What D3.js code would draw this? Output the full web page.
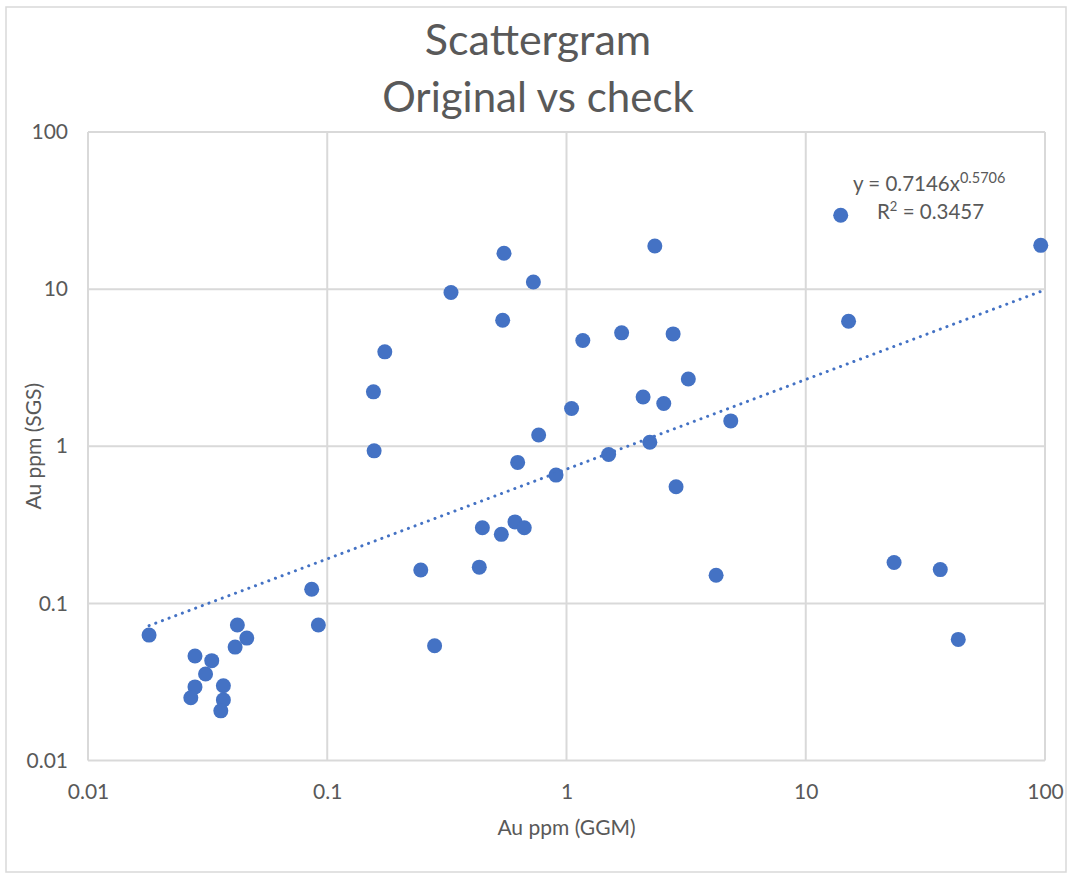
<!DOCTYPE html>
<html>
<head>
<meta charset="utf-8">
<script src="https://cdnjs.cloudflare.com/ajax/libs/d3/7.8.5/d3.min.js"></script>
<style>
  body { margin: 0; background: #fff; }
  text { font-family: Lato, "Open Sans", sans-serif; fill: #595959; }
</style>
</head>
<body>
<div id="chart"></div>
<script>
// Au ppm, original lab (GGM) vs check lab (SGS)
var ggm = [0.0180, 0.0280, 0.0329, 0.0310, 0.0280, 0.0269, 0.0368, 0.0368, 0.0359, 0.0421,
           0.0461, 0.0412, 0.0861, 0.0918, 0.157, 0.174, 0.156, 0.548, 0.727, 0.329,
           0.541, 2.34, 1.17, 1.70, 2.79, 3.23, 2.09, 2.55, 1.05, 0.765,
           2.23, 1.50, 14.0, 96.0, 15.1, 4.86, 0.625, 0.904, 2.87, 0.445,
           0.534, 0.609, 0.666, 0.246, 0.432, 0.281, 4.22, 23.4, 36.5, 43.4];
var sgs = [0.0628, 0.0462, 0.0432, 0.0355, 0.0294, 0.0251, 0.0299, 0.0243, 0.0207, 0.0728,
           0.0601, 0.0527, 0.123, 0.0728, 0.935, 3.99, 2.22, 16.9, 11.1, 9.51,
           6.34, 18.8, 4.71, 5.27, 5.19, 2.68, 2.06, 1.87, 1.74, 1.18,
           1.06, 0.887, 29.5, 19.0, 6.25, 1.45, 0.789, 0.655, 0.552, 0.303,
           0.275, 0.330, 0.303, 0.163, 0.170, 0.0537, 0.151, 0.182, 0.164, 0.059];

var tickVals = [0.01, 0.1, 1, 10, 100];
var tickLabels = ["0.01", "0.1", "1", "10", "100"];

// power trendline shown on the chart
var trendA = 0.7146, trendB = 0.5706, trendR2 = "0.3457";

var width = 1071, height = 875;
var margin = {left: 88, right: 26, top: 132, bottom: 114.5};
var plotW = width - margin.left - margin.right;
var plotH = height - margin.top - margin.bottom;

var svg = d3.select("#chart").append("svg")
    .attr("width", width)
    .attr("height", height);

// chart outer border
svg.append("rect")
    .attr("x", 6).attr("y", 7)
    .attr("width", 1060).attr("height", 865)
    .attr("fill", "#fff")
    .attr("stroke", "#d9d9d9")
    .attr("stroke-width", 1.5);

// title
svg.append("text")
    .attr("x", 538).attr("y", 55)
    .attr("text-anchor", "middle")
    .attr("font-size", "43px")
    .text("Scattergram");
svg.append("text")
    .attr("x", 538).attr("y", 112)
    .attr("text-anchor", "middle")
    .attr("font-size", "42px")
    .text("Original vs check");

var g = svg.append("g")
    .attr("transform", "translate(" + margin.left + "," + margin.top + ")");

var x = d3.scaleLog().domain([0.01, 100]).range([0, plotW]);
var y = d3.scaleLog().domain([0.01, 100]).range([plotH, 0]);

// gridlines
g.selectAll(".vgrid")
    .data(tickVals)
    .enter()
    .append("line")
    .attr("x1", function(d){ return x(d); })
    .attr("x2", function(d){ return x(d); })
    .attr("y1", 0).attr("y2", plotH)
    .style("stroke", "#d9d9d9")
    .style("stroke-width", "2px");

g.selectAll(".hgrid")
    .data(tickVals)
    .enter()
    .append("line")
    .attr("x1", 0).attr("x2", plotW)
    .attr("y1", function(d){ return y(d); })
    .attr("y2", function(d){ return y(d); })
    .style("stroke", "#d9d9d9")
    .style("stroke-width", "2px");

// axes (labels only)
var xAxis = g.append("g")
    .attr("transform", "translate(0," + plotH + ")")
    .call(d3.axisBottom(x).tickValues(tickVals)
        .tickFormat(function(d, i){ return tickLabels[i]; })
        .tickSize(0).tickPadding(24));
xAxis.select(".domain").remove();
xAxis.selectAll("text")
    .attr("font-size", "21px")
    .style("font-family", "Lato, sans-serif")
    .style("fill", "#595959");

var yAxis = g.append("g")
    .call(d3.axisLeft(y).tickValues(tickVals)
        .tickFormat(function(d, i){ return tickLabels[i]; })
        .tickSize(0).tickPadding(20));
yAxis.select(".domain").remove();
yAxis.selectAll("text")
    .attr("font-size", "21px")
    .style("font-family", "Lato, sans-serif")
    .style("fill", "#595959");

// axis titles
svg.append("text")
    .attr("x", margin.left + plotW/2).attr("y", 835)
    .attr("text-anchor", "middle")
    .attr("font-size", "21px")
    .text("Au ppm (GGM)");
svg.append("text")
    .attr("transform", "translate(41," + (margin.top + plotH/2) + ") rotate(-90)")
    .attr("text-anchor", "middle")
    .attr("font-size", "21px")
    .text("Au ppm (SGS)");

// points
var data = ggm.map(function(d, i){ return {x: d, y: sgs[i]}; });
g.selectAll("circle")
    .data(data)
    .enter()
    .append("circle")
    .attr("cx", function(d){ return x(d.x); })
    .attr("cy", function(d){ return y(d.y); })
    .attr("r", 7.5)
    .style("fill", "#4472c4");

// trendline over the data range
var xr = d3.extent(ggm);
var trend = xr.map(function(v){ return [v, trendA*Math.pow(v, trendB)]; });
g.append("line")
    .attr("x1", x(trend[0][0])).attr("y1", y(trend[0][1]))
    .attr("x2", x(trend[1][0])).attr("y2", y(trend[1][1]))
    .style("stroke", "#4472c4")
    .style("stroke-width", "3px")
    .style("stroke-linecap", "round")
    .style("stroke-dasharray", "0.1,7");

// equation label
var eq = svg.append("text")
    .attr("x", 853).attr("y", 191)
    .attr("font-size", "20.5px");
eq.append("tspan").text("y = " + trendA + "x");
eq.append("tspan").attr("dy", -8).attr("font-size", "14.5px").text(trendB);
var r2 = svg.append("text")
    .attr("x", 877).attr("y", 219)
    .attr("font-size", "20.5px");
r2.append("tspan").text("R");
r2.append("tspan").attr("dy", -8).attr("font-size", "13px").text("2");
r2.append("tspan").attr("dy", 8).text(" = " + trendR2);
</script>
</body>
</html>
